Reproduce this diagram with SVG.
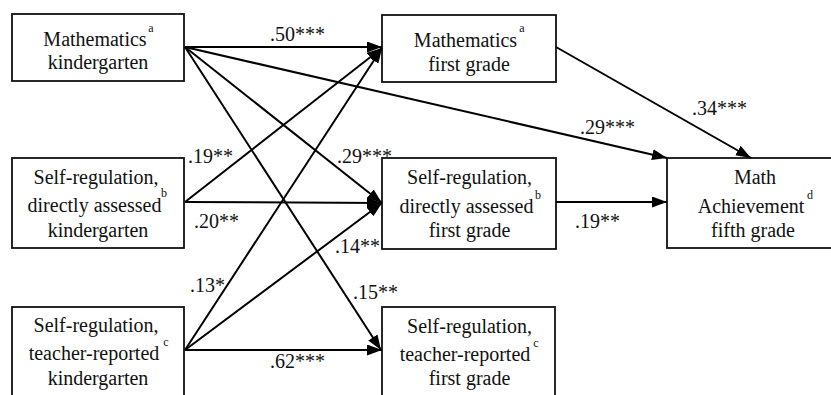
<svg xmlns="http://www.w3.org/2000/svg" width="831" height="395" viewBox="0 0 831 395">
<defs>
<marker id="ah" markerUnits="userSpaceOnUse" markerWidth="15" markerHeight="11" refX="15" refY="5.5" orient="auto">
<path d="M0,0 L15,5.5 L0,11 z" fill="#000"/>
</marker>
<style>
.box{fill:#fff;stroke:#111;stroke-width:1.8}
text{font-family:"Times New Roman",Times,"Liberation Serif","Tinos",serif;fill:#111}
.t{font-size:20px;text-anchor:middle}
.s{font-size:12px;text-anchor:middle}
.l{font-size:20px}
.c{stroke:#000;stroke-width:2;fill:none;marker-end:url(#ah)}
</style>
</defs>
<rect width="831" height="395" fill="#fff"/>
<g id="n1">
<rect class="box" x="12" y="14" width="172" height="67"/>
<text class="t" x="95" y="46">Mathematics</text>
<text class="t" x="98" y="69">kindergarten</text>
<text class="s" x="151" y="32">a</text>
</g>
<g id="n2">
<rect class="box" x="12" y="158" width="172" height="90"/>
<text class="t" x="96" y="184">Self-regulation,</text>
<text class="t" x="94.5" y="212">directly assessed</text>
<text class="t" x="98" y="237">kindergarten</text>
<text class="s" x="164" y="197">b</text>
</g>
<g id="n3">
<rect class="box" x="12" y="307" width="172" height="100"/>
<text class="t" x="96" y="332">Self-regulation,</text>
<text class="t" x="94" y="360">teacher-reported</text>
<text class="t" x="98" y="385">kindergarten</text>
<text class="s" x="166" y="346">c</text>
</g>
<g id="n4">
<rect class="box" x="382" y="15" width="174" height="67"/>
<text class="t" x="465.5" y="47">Mathematics</text>
<text class="t" x="469" y="71">first grade</text>
<text class="s" x="522" y="32">a</text>
</g>
<g id="n5">
<rect class="box" x="382" y="158" width="174" height="91"/>
<text class="t" x="469.5" y="184">Self-regulation,</text>
<text class="t" x="466.5" y="213">directly assessed</text>
<text class="t" x="469.5" y="237">first grade</text>
<text class="s" x="538" y="199">b</text>
</g>
<g id="n6">
<rect class="box" x="382" y="307" width="173" height="100"/>
<text class="t" x="469.5" y="333">Self-regulation,</text>
<text class="t" x="465" y="361">teacher-reported</text>
<text class="t" x="469.5" y="385">first grade</text>
<text class="s" x="536" y="347">c</text>
</g>
<g id="n7">
<rect class="box" x="667" y="158" width="175" height="90"/>
<text class="t" x="755" y="184">Math</text>
<text class="t" x="751" y="213">Achievement</text>
<text class="t" x="753" y="237">fifth grade</text>
<text class="s" x="810" y="199">d</text>
</g>
<g id="connectors">
<line class="c" x1="185" y1="47" x2="382" y2="47"/>
<line class="c" x1="185" y1="47" x2="667" y2="158"/>
<line class="c" x1="185" y1="47" x2="382" y2="203"/>
<line class="c" x1="185" y1="47" x2="381" y2="350"/>
<line class="c" x1="185" y1="202" x2="382" y2="48"/>
<line class="c" x1="185" y1="202" x2="382" y2="203"/>
<line class="c" x1="185" y1="350" x2="382" y2="48"/>
<line class="c" x1="185" y1="350" x2="382" y2="203"/>
<line class="c" x1="185" y1="350" x2="382" y2="350"/>
<line class="c" x1="556" y1="47" x2="751" y2="158"/>
<line class="c" x1="556" y1="202" x2="667" y2="202"/>
</g>
<g id="labels">
<text class="l" x="270" y="41">.50***</text>
<text class="l" x="580" y="134">.29***</text>
<text class="l" x="692" y="115">.34***</text>
<text class="l" x="188" y="163">.19**</text>
<text class="l" x="337" y="163">.29***</text>
<text class="l" x="194" y="228">.20**</text>
<text class="l" x="335" y="253">.14**</text>
<text class="l" x="190" y="292">.13*</text>
<text class="l" x="353" y="299">.15**</text>
<text class="l" x="270" y="368">.62***</text>
<text class="l" x="575" y="228">.19**</text>
</g>
</svg>
